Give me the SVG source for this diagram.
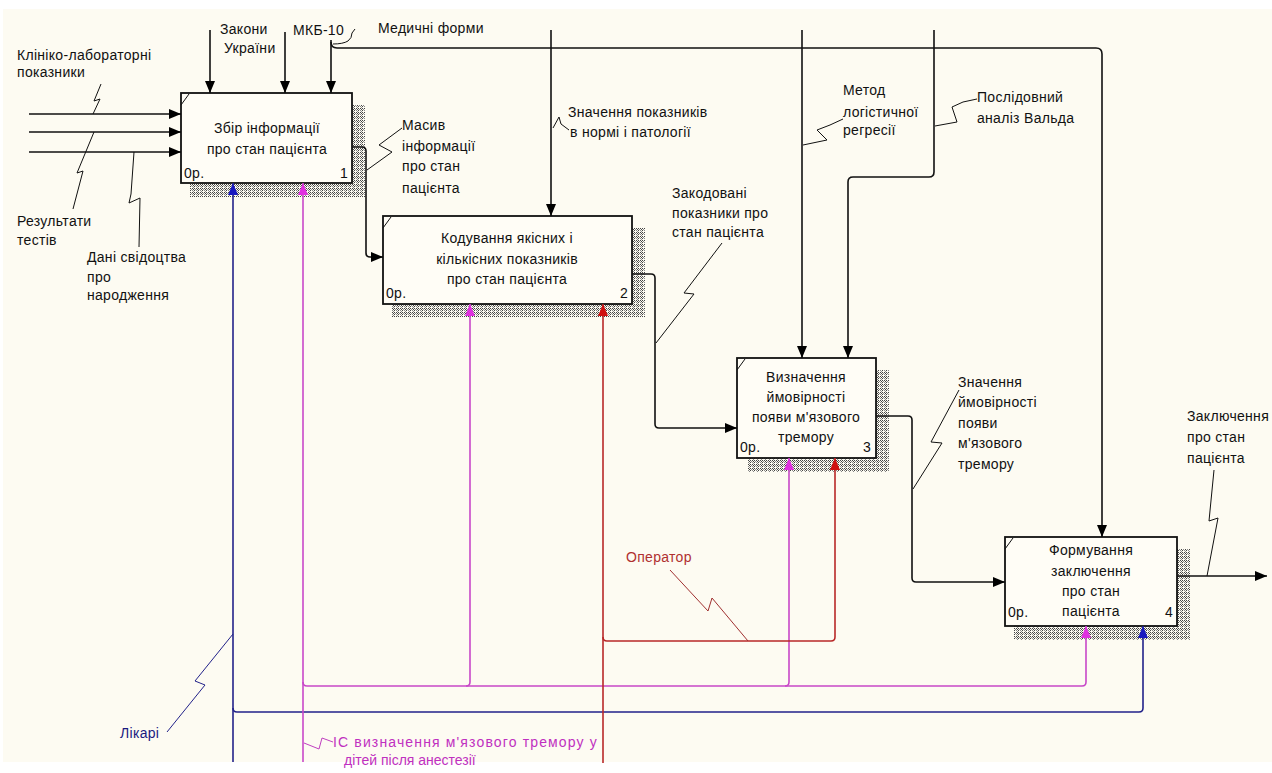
<svg xmlns="http://www.w3.org/2000/svg" width="1272" height="773" viewBox="0 0 1272 773">
<defs>
<pattern id="hatch" width="4" height="4" patternUnits="userSpaceOnUse">
<rect width="4" height="4" fill="#fdfbf2"/>
<rect x="0" y="0" width="1" height="1" fill="#444"/>
<rect x="2" y="0" width="1" height="1" fill="#444"/>
<rect x="1" y="1" width="1" height="1" fill="#444"/>
<rect x="3" y="1" width="1" height="1" fill="#888"/>
<rect x="0" y="2" width="1" height="1" fill="#888"/>
<rect x="2" y="2" width="1" height="1" fill="#444"/>
<rect x="1" y="3" width="1" height="1" fill="#888"/>
</pattern>
<marker id="ab" markerUnits="userSpaceOnUse" markerWidth="12" markerHeight="10" refX="12" refY="5" orient="auto"><path d="M0,0 L12,5 L0,10 z" fill="#000"/></marker>
<marker id="ap" markerUnits="userSpaceOnUse" markerWidth="12" markerHeight="10" refX="12" refY="5" orient="auto"><path d="M0,0 L12,5 L0,10 z" fill="#e030e0"/></marker>
<marker id="ar" markerUnits="userSpaceOnUse" markerWidth="12" markerHeight="10" refX="12" refY="5" orient="auto"><path d="M0,0 L12,5 L0,10 z" fill="#d01010"/></marker>
<marker id="abl" markerUnits="userSpaceOnUse" markerWidth="12" markerHeight="10" refX="12" refY="5" orient="auto"><path d="M0,0 L12,5 L0,10 z" fill="#1818c0"/></marker>
</defs>
<style>
text{font-family:"Liberation Sans","DejaVu Sans",sans-serif;font-size:14px;fill:#111;letter-spacing:0.3px}
.c{text-anchor:middle}
.e{text-anchor:end}
.box{fill:#fffdf6;stroke:#111;stroke-width:1.8}
.sh{fill:url(#hatch)}
.tick{stroke:#111;stroke-width:1;fill:none}
.k{fill:none;stroke:#111;stroke-width:1.6}
.p{fill:none;stroke:#c848c8;stroke-width:1.6}
.r{fill:none;stroke:#b82828;stroke-width:1.6}
.b{fill:none;stroke:#22228a;stroke-width:1.6}
.lk{fill:none;stroke:#111;stroke-width:1}
.lr{fill:none;stroke:#a03030;stroke-width:1}
.lb{fill:none;stroke:#22228a;stroke-width:1}
.lp{fill:none;stroke:#c040c0;stroke-width:1}
.tr{fill:#b03030}
.tb{fill:#1a1a80}
.tp{fill:#c030c0}
</style>
<rect width="1272" height="773" fill="#ffffff"/>
<rect x="3" y="9" width="1269" height="753" fill="#fdfbf2"/>

<g id="node1">
<rect class="sh" x="190" y="105" width="175" height="92"/>
<rect class="box" x="181" y="93" width="171" height="90"/>
<path class="tick" d="M181,105 L189,94"/>
<text class="c" x="267" y="133">Збір інформації</text>
<text class="c" x="267" y="154">про стан пацієнта</text>
<text x="184" y="178">0р.</text>
<text class="e" x="348" y="178">1</text>
</g>

<g id="node2">
<rect class="sh" x="392" y="228" width="253" height="89"/>
<rect class="box" x="383" y="216" width="249" height="88"/>
<path class="tick" d="M383,228 L391,217"/>
<text class="c" x="507" y="243">Кодування якісних і</text>
<text class="c" x="507" y="264">кількісних показників</text>
<text class="c" x="507" y="284">про стан пацієнта</text>
<text x="386" y="298">0р.</text>
<text class="e" x="628" y="298">2</text>
</g>

<g id="node3">
<rect class="sh" x="748" y="370" width="141" height="102"/>
<rect class="box" x="737" y="358" width="139" height="100"/>
<path class="tick" d="M737,370 L745,359"/>
<text class="c" x="806" y="382">Визначення</text>
<text class="c" x="806" y="402">ймовірності</text>
<text class="c" x="806" y="422">появи м'язового</text>
<text class="c" x="806" y="442">тремору</text>
<text x="740" y="452">0р.</text>
<text class="e" x="871" y="452">3</text>
</g>

<g id="node4">
<rect class="sh" x="1014" y="549" width="176" height="91"/>
<rect class="box" x="1005" y="537" width="172" height="89"/>
<path class="tick" d="M1005,549 L1013,538"/>
<text class="c" x="1091" y="555">Формування</text>
<text class="c" x="1091" y="576">заключення</text>
<text class="c" x="1091" y="596">про стан</text>
<text class="c" x="1091" y="616">пацієнта</text>
<text x="1008" y="617">0р.</text>
<text class="e" x="1173" y="617">4</text>
</g>

<g id="connectors">
<path class="k" d="M29,114 H181" marker-end="url(#ab)"/>
<path class="k" d="M29,132 H181" marker-end="url(#ab)"/>
<path class="k" d="M29,152 H181" marker-end="url(#ab)"/>
<path class="k" d="M210,30 V93" marker-end="url(#ab)"/>
<path class="k" d="M285,32 V93" marker-end="url(#ab)"/>
<path class="k" d="M331,40 V93" marker-end="url(#ab)"/>
<path class="k" d="M331,42 Q331,48 337,48 H1096 Q1102,48 1102,54 V537" marker-end="url(#ab)"/>
<path class="k" d="M352,147 H362 Q366,147 366,151 V253 Q366,257 370,257 H383" marker-end="url(#ab)"/>
<path class="k" d="M551,30 V216" marker-end="url(#ab)"/>
<path class="k" d="M632,274 H651 Q655,274 655,278 V424 Q655,428 659,428 H737" marker-end="url(#ab)"/>
<path class="k" d="M802,30 V358" marker-end="url(#ab)"/>
<path class="k" d="M934,30 V172 Q934,177 929,177 H853 Q848,177 848,182 V358" marker-end="url(#ab)"/>
<path class="k" d="M876,416 H908 Q912,416 912,420 V578 Q912,582 916,582 H1005" marker-end="url(#ab)"/>
<path class="k" d="M1177,576 H1267" marker-end="url(#ab)"/>

<path class="b" d="M233,762 V183" marker-end="url(#abl)"/>
<path class="b" d="M233,708 Q233,712 237,712 H1139 Q1143,712 1143,708 V626" marker-end="url(#abl)"/>
<path class="p" d="M303,762 V183" marker-end="url(#ap)"/>
<path class="p" d="M303,682 Q303,686 307,686 H1082 Q1086,686 1086,682 V626" marker-end="url(#ap)"/>
<path class="p" d="M466,686 Q470,686 470,682 V304" marker-end="url(#ap)"/>
<path class="p" d="M785,686 Q789,686 789,682 V458" marker-end="url(#ap)"/>
<path class="r" d="M603,763 V304" marker-end="url(#ar)"/>
<path class="r" d="M603,637 Q603,641 607,641 H831 Q835,641 835,637 V458" marker-end="url(#ar)"/>

<path class="lk" d="M101,84 L94,101 L100,99 L93,114"/>
<path class="lk" d="M73,209 L83,171 L77,173 L94,132"/>
<path class="lk" d="M139,247 L140,198 L129,203 L131,194 L134,152"/>
<path class="lk" d="M333,44 Q343,44 348,41 Q352,38 352,33 L355,29"/>
<path class="lk" d="M402,128 L379,145 L392,152 L367,170"/>
<path class="lk" d="M553,128 L559,117 L561,124 L569,130"/>
<path class="lk" d="M722,243 L684,293 L694,294 L656,343"/>
<path class="lk" d="M803,145 L827,140 L817,130 L830,125 L843,119"/>
<path class="lk" d="M935,126 L957,122 L952,107 L963,102 L977,99"/>
<path class="lk" d="M959,390 L931,442 L942,443 L913,489"/>
<path class="lk" d="M1214,470 L1209,521 L1218,518 L1207,576"/>
<path class="lr" d="M670,570 L708,611 L712,598 L748,641"/>
<path class="lb" d="M167,732 L205,685 L195,681 L233,634"/>
<path class="lp" d="M304,743 L319,749 L322,738 L333,742"/>

<text x="17" y="60">Клініко-лабораторні</text>
<text x="17" y="77">показники</text>
<text x="220" y="34">Закони</text>
<text x="224" y="53">України</text>
<text x="293" y="35">МКБ-10</text>
<text x="378" y="33">Медичні форми</text>
<text x="17" y="226">Результати</text>
<text x="17" y="245">тестів</text>
<text x="87" y="262">Дані свідоцтва</text>
<text x="87" y="282">про</text>
<text x="87" y="300">народження</text>
<text x="402" y="130">Масив</text>
<text x="402" y="151">інформації</text>
<text x="402" y="171">про стан</text>
<text x="402" y="193">пацієнта</text>
<text x="568" y="117">Значення показників</text>
<text x="570" y="137">в нормі і патології</text>
<text x="672" y="198">Закодовані</text>
<text x="672" y="218">показники про</text>
<text x="672" y="237">стан пацієнта</text>
<text x="843" y="95">Метод</text>
<text x="843" y="117">логістичної</text>
<text x="843" y="135">регресії</text>
<text x="977" y="102">Послідовний</text>
<text x="977" y="123">аналіз Вальда</text>
<text x="958" y="387">Значення</text>
<text x="958" y="407">ймовірності</text>
<text x="958" y="428">появи</text>
<text x="958" y="448">м'язового</text>
<text x="958" y="469">тремору</text>
<text x="1187" y="421">Заключення</text>
<text x="1187" y="442">про стан</text>
<text x="1187" y="463">пацієнта</text>
<text class="tr" x="626" y="562">Оператор</text>
<text class="tb" x="120" y="738">Лікарі</text>
<text class="tp" x="333" y="747" textLength="264" lengthAdjust="spacing">ІС визначення м'язового тремору у</text>
<text class="tp" x="344" y="765" textLength="132" lengthAdjust="spacing">дітей після анестезії</text>
</g>
</svg>
